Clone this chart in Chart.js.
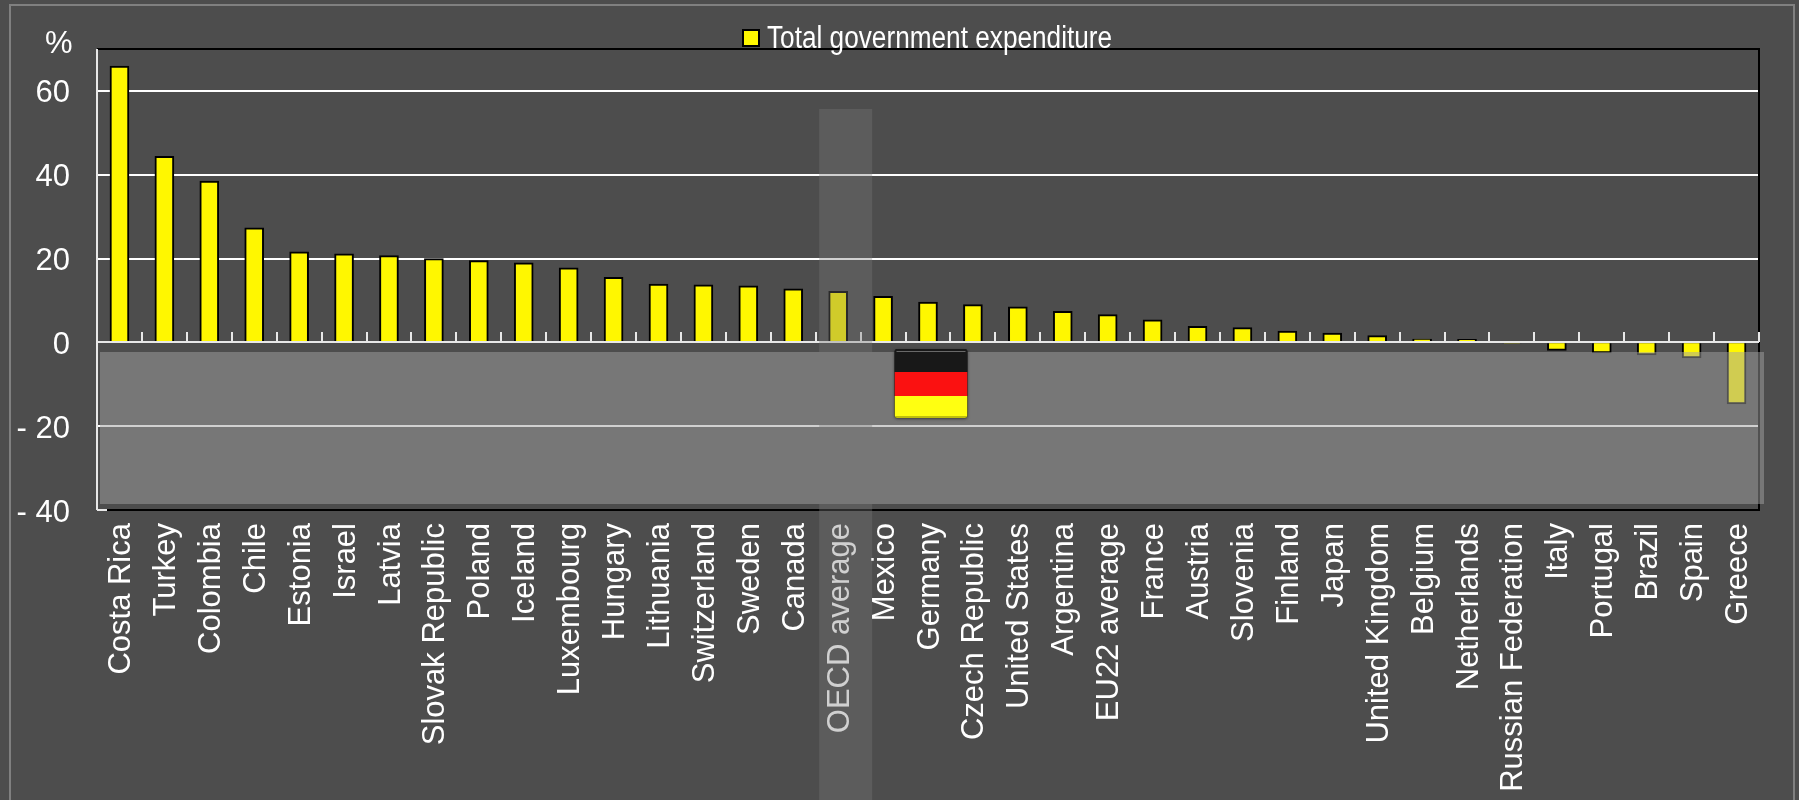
<!DOCTYPE html>
<html>
<head>
<meta charset="utf-8">
<title>Total government expenditure</title>
<style>
  html, body { margin: 0; padding: 0; background: #4d4d4d; overflow: hidden; }
  #wrap { position: relative; width: 1799px; height: 800px; }
</style>
<script src="https://cdn.jsdelivr.net/npm/chart.js@4"></script>
</head>
<body>
<div id="wrap"><canvas id="chart"></canvas></div>
<script>
const countries = ['Costa Rica', 'Turkey', 'Colombia', 'Chile', 'Estonia', 'Israel', 'Latvia',
    'Slovak Republic', 'Poland', 'Iceland', 'Luxembourg', 'Hungary', 'Lithuania', 'Switzerland',
    'Sweden', 'Canada', 'OECD average', 'Mexico', 'Germany', 'Czech Republic', 'United States',
    'Argentina', 'EU22 average', 'France', 'Austria', 'Slovenia', 'Finland', 'Japan',
    'United Kingdom', 'Belgium', 'Netherlands', 'Russian Federation', 'Italy', 'Portugal',
    'Brazil', 'Spain', 'Greece'];
const expenditure = [65.9, 44.4, 38.5, 27.3, 21.6, 21.1, 20.7, 20.0, 19.5, 19.0, 17.8, 15.5, 13.9,
    13.7, 13.5, 12.8, 12.2, 11.0, 9.6, 9.0, 8.5, 7.4, 6.6, 5.4, 3.8, 3.5, 2.7, 2.2, 1.6, 0.8, 0.7,
    -0.1, -1.9, -2.5, -3.0, -3.7, -14.7];
const yTicks = [-40, -20, 0, 20, 40, 60];
const seriesName = 'Total government expenditure';

const fontFamily = '"Liberation Sans", Arial, sans-serif';
const white = '#ffffff';

const decorations = {
    id: 'decorations',
    beforeDraw(chart) {
        const ctx = chart.ctx;
        ctx.save();
        ctx.strokeStyle = '#808080';
        ctx.lineWidth = 2;
        ctx.strokeRect(10, 5, 1784, 810);
        ctx.restore();
    },
    afterDatasetsDraw(chart) {
        const ctx = chart.ctx;
        const { left, right, top, bottom } = chart.chartArea;
        const x = chart.scales.x;
        const y0 = Math.round(chart.scales.y.getPixelForValue(0));
        const step = (right - left) / countries.length;

        ctx.save();
        // black frame on top, right and bottom
        ctx.strokeStyle = '#000000';
        ctx.lineWidth = 2;
        ctx.beginPath();
        ctx.moveTo(left, top);
        ctx.lineTo(right, top);
        ctx.lineTo(right, bottom);
        ctx.lineTo(left, bottom);
        ctx.stroke();

        // white axes and tick marks
        ctx.strokeStyle = '#e8e8e8';
        ctx.beginPath();
        ctx.moveTo(left, top);
        ctx.lineTo(left, bottom);
        ctx.moveTo(left, bottom);
        ctx.lineTo(left + 10, bottom);
        ctx.moveTo(left, y0);
        ctx.lineTo(right, y0);
        for (let i = 0; i < countries.length; i++) {
            const tx = Math.round(x.getPixelForTick(i) + step / 2);
            ctx.moveTo(tx, y0);
            ctx.lineTo(tx, y0 - 10);
        }
        ctx.stroke();
        ctx.restore();
    },
    afterDraw(chart) {
        const ctx = chart.ctx;
        const x = chart.scales.x;
        const oecd = x.getPixelForValue(countries.indexOf('OECD average'));
        const germany = x.getPixelForValue(countries.indexOf('Germany'));

        ctx.save();
        // grey band below the zero line
        ctx.fillStyle = 'rgba(162, 162, 162, 0.5)';
        ctx.fillRect(100, 352, 1664, 152);
        // lighter column behind the OECD average
        ctx.fillStyle = 'rgba(120, 120, 120, 0.35)';
        ctx.fillRect(oecd - 19, 109, 53, 691);

        // German flag
        const fx = germany + 3 - 36.5, fy = 349, fw = 73, fh = 69;
        ctx.shadowColor = 'rgba(0, 0, 0, 0.5)';
        ctx.shadowBlur = 3;
        ctx.shadowOffsetY = 1;
        ctx.fillStyle = '#111111';
        ctx.beginPath();
        ctx.roundRect(fx, fy, fw, fh, 3);
        ctx.fill();
        ctx.shadowColor = 'transparent';
        ctx.save();
        ctx.clip();
        ctx.fillStyle = '#181818';
        ctx.fillRect(fx, fy, fw, 23);
        ctx.fillStyle = '#fb1111';
        ctx.fillRect(fx, fy + 23, fw, 24);
        ctx.fillStyle = '#ffff11';
        ctx.fillRect(fx, fy + 47, fw, 22);
        ctx.fillStyle = 'rgba(255, 255, 255, 0.35)';
        ctx.fillRect(fx + 2, fy + 2, fw - 4, 1);
        ctx.fillStyle = 'rgba(0, 0, 0, 0.25)';
        ctx.fillRect(fx, fy + fh - 2, fw, 2);
        ctx.restore();

        // legend and unit
        ctx.fillStyle = '#000000';
        ctx.fillRect(742, 29, 18, 18);
        ctx.fillStyle = '#fff700';
        ctx.fillRect(744, 31, 14, 14);
        ctx.fillStyle = white;
        ctx.textBaseline = 'middle';
        ctx.textAlign = 'left';
        ctx.font = '31px ' + fontFamily;
        ctx.fillText('%', 45, 44);
        // reference legend text is squeezed horizontally
        ctx.translate(767, 39);
        ctx.scale(0.845, 1);
        ctx.fillText(seriesName, 0, 0);
        ctx.restore();
    }
};

new Chart(document.getElementById('chart'), {
    type: 'bar',
    data: {
        labels: countries,
        datasets: [{
            label: seriesName,
            data: expenditure,
            backgroundColor: '#fff700',
            borderColor: '#000000',
            borderWidth: 2,
            barThickness: 19
        }]
    },
    options: {
        responsive: true,
        maintainAspectRatio: false,
        animation: false,
        layout: { padding: { top: 49, right: 40, left: 0, bottom: 0 } },
        plugins: {
            legend: { display: false },
            tooltip: { enabled: false }
        },
        scales: {
            x: {
                offset: true,
                afterFit: (scale) => { scale.height = 290; },
                grid: { display: false },
                border: { display: false },
                ticks: {
                    color: white,
                    font: { family: fontFamily, size: 31 },
                    autoSkip: false,
                    minRotation: 90,
                    maxRotation: 90,
                    padding: 5,
                    labelOffset: 2
                }
            },
            y: {
                min: -40,
                max: 70,
                afterFit: (scale) => { scale.width = 97; },
                afterBuildTicks: (scale) => { scale.ticks = yTicks.map((value) => ({ value })); },
                grid: {
                    color: (c) => (c.tick && c.tick.value === -40 ? 'transparent' : white),
                    lineWidth: 2,
                    drawTicks: false
                },
                border: { display: false },
                ticks: {
                    color: white,
                    font: { family: fontFamily, size: 31 },
                    padding: 27,
                    labelOffset: 3,
                    callback: (v) => (v < 0 ? '- ' + Math.abs(v) : String(v))
                }
            }
        }
    },
    plugins: [decorations]
});
</script>
</body>
</html>
